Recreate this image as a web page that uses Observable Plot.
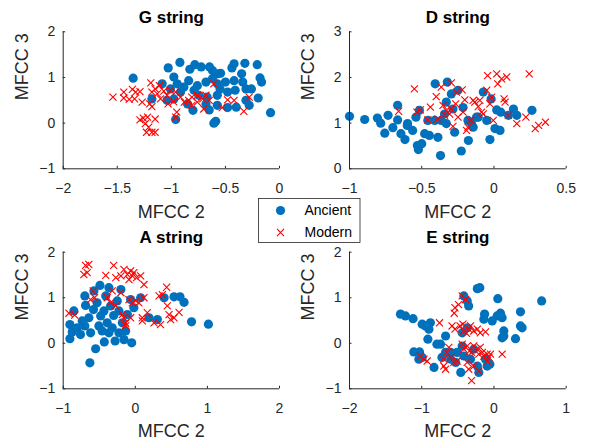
<!DOCTYPE html>
<html><head><meta charset="utf-8">
<script src="https://cdn.jsdelivr.net/npm/d3@7"></script>
<script src="https://cdn.jsdelivr.net/npm/@observablehq/plot@0.6"></script>
<style>
body{margin:0;background:#fff;}
#chart{position:relative;width:589px;height:440px;font-family:"Liberation Sans",Arial,sans-serif;background:#fff;overflow:hidden;}
.panel{position:absolute;}
</style></head><body><div id="chart"></div>
<script>
// ---- data: [MFCC 2, MFCC 3] pairs ----
const gAncient = [[-1.353,0.985],[-0.921,1.33],[-1.029,1.21],[-0.783,1.28],[-0.829,1.18],[-0.724,1.23],[-0.647,1.23],[-0.62,1.15],[-0.575,1.08],[-0.545,1.09],[-0.42,1.30],[-0.44,1.21],[-0.32,1.31],[-0.206,1.28],[-0.35,1.08],[-0.18,0.99],[-0.166,0.90],[-0.26,0.75],[-0.31,0.75],[-0.197,0.55],[-0.28,0.39],[-0.083,0.23],[-0.40,0.35],[-0.48,0.34],[-0.575,0.39],[-0.65,0.29],[-0.607,0.0],[-0.59,0.04],[-0.80,0.28],[-0.96,0.08],[-1.18,0.53],[-1.085,0.86],[-0.977,1.01],[-0.884,0.79],[-0.84,0.93],[-0.76,0.82],[-0.68,0.90],[-0.50,0.90],[-0.42,0.93],[-0.41,0.72],[-0.48,0.68],[-0.575,0.61],[-0.67,0.57],[-0.746,0.61],[-0.915,0.68],[-0.977,0.53],[-1.04,0.50],[-0.85,0.42],[-0.575,0.86],[-0.62,0.97],[-0.946,0.86],[-1.008,0.75],[-0.34,0.90],[-0.55,0.75],[-0.31,0.50],[-0.68,0.42],[-0.79,0.72]];
const gModern = [[-1.54,0.57],[-1.44,0.68],[-1.44,0.55],[-1.39,0.52],[-1.36,0.74],[-1.33,0.68],[-1.29,0.69],[-1.34,0.53],[-1.27,0.46],[-1.19,0.88],[-1.18,0.68],[-1.15,0.75],[-1.11,0.82],[-1.13,0.64],[-1.20,0.42],[-1.18,0.36],[-1.29,0.07],[-1.26,0.11],[-1.22,0.13],[-1.15,0.09],[-1.24,-0.01],[-1.21,-0.09],[-1.23,-0.20],[-1.18,-0.20],[-1.15,-0.20],[-1.07,0.70],[-1.04,0.61],[-1.01,0.72],[-0.96,0.68],[-1.03,0.42],[-0.98,0.47],[-0.95,0.24],[-0.96,0.13],[-0.915,0.57],[-0.88,0.46],[-0.84,0.50],[-0.81,0.57],[-0.76,0.61],[-0.76,0.46],[-0.71,0.53],[-0.68,0.61],[-0.65,0.50],[-0.70,0.31],[-0.607,0.86],[-0.53,0.34],[-0.48,0.51],[-0.42,0.50],[-0.33,0.26],[-0.28,0.57],[-0.81,0.39],[-1.10,0.53]];
const dAncient = [[-1.0,1.15],[-0.895,1.08],[-0.807,1.11],[-0.784,1.0],[-0.733,1.17],[-0.756,0.78],[-0.70,0.90],[-0.667,1.39],[-0.667,1.07],[-0.644,0.77],[-0.616,0.64],[-0.60,0.95],[-0.563,0.84],[-0.54,1.13],[-0.53,0.51],[-0.523,0.42],[-0.50,0.55],[-0.516,1.28],[-0.48,0.77],[-0.458,1.06],[-0.447,0.73],[-0.407,1.86],[-0.388,0.69],[-0.37,0.29],[-0.365,1.06],[-0.33,0.99],[-0.323,1.90],[-0.33,1.46],[-0.295,1.64],[-0.284,1.31],[-0.272,0.80],[-0.249,1.72],[-0.226,0.39],[-0.214,1.34],[-0.18,1.06],[-0.177,0.62],[-0.156,0.99],[-0.144,0.91],[-0.109,1.13],[-0.074,1.68],[-0.05,1.06],[-0.02,1.53],[-0.028,0.64],[0.007,0.88],[0.019,1.29],[0.042,0.84],[0.047,1.24],[0.10,1.17],[0.135,1.31],[0.158,1.17],[0.263,1.28],[-0.121,1.13],[-0.41,1.06],[-0.342,1.20],[-0.598,0.99]];
const dModern = [[-0.551,1.75],[-0.66,1.26],[-0.533,1.24],[-0.51,1.29],[-0.458,1.07],[-0.44,1.35],[-0.40,1.58],[-0.365,1.79],[-0.353,1.39],[-0.388,1.09],[-0.342,1.17],[-0.33,1.28],[-0.307,1.20],[-0.295,1.88],[-0.295,1.31],[-0.265,1.42],[-0.26,1.68],[-0.249,1.13],[-0.284,0.93],[-0.22,1.73],[-0.202,1.51],[-0.19,0.84],[-0.18,0.91],[-0.156,1.06],[-0.144,1.50],[-0.133,1.46],[-0.109,1.36],[-0.098,1.50],[-0.074,1.20],[-0.05,1.72],[-0.044,2.04],[-0.028,1.42],[-0.016,1.57],[-0.005,1.06],[0.019,2.08],[0.026,1.86],[0.053,1.97],[0.07,1.53],[0.077,1.46],[0.088,2.01],[0.10,1.17],[0.158,0.99],[0.221,1.13],[0.244,2.08],[0.286,0.88],[0.309,0.95],[0.356,1.02],[-0.167,1.06],[-0.086,1.24],[-0.214,1.24]];
const aAncient = [[-0.907,0.41],[-0.875,0.25],[-0.907,0.10],[-0.852,0.71],[-0.76,0.19],[-0.70,0.38],[-0.70,1.04],[-0.69,0.83],[-0.63,-0.43],[-0.644,0.56],[-0.574,1.15],[-0.55,-0.12],[-0.58,0.74],[-0.53,0.89],[-0.49,1.27],[-0.48,0.60],[-0.46,0.27],[-0.43,0.03],[-0.41,1.04],[-0.39,0.45],[-0.366,1.22],[-0.343,0.82],[-0.32,0.34],[-0.30,0.61],[-0.28,0.05],[-0.25,0.93],[-0.227,0.23],[-0.20,1.18],[-0.18,0.45],[-0.157,0.08],[-0.134,0.27],[-0.11,0.63],[-0.065,0.96],[-0.05,0.01],[-0.02,0.78],[0.074,1.00],[0.19,0.56],[0.306,0.52],[0.40,1.00],[0.537,1.02],[0.62,1.02],[0.676,0.90],[0.78,0.47],[1.014,0.42],[-0.806,0.34],[-0.505,0.38],[-0.435,0.71],[-0.366,0.23],[-0.227,0.71],[-0.62,0.23],[-0.736,0.49]];
const aModern = [[-0.92,0.66],[-0.84,0.62],[-0.713,1.51],[-0.69,1.71],[-0.644,1.73],[-0.667,1.55],[-0.62,0.96],[-0.565,1.00],[-0.583,1.15],[-0.41,1.49],[-0.30,1.71],[-0.27,1.44],[-0.20,1.48],[-0.157,1.62],[-0.11,1.51],[-0.088,1.40],[-0.065,1.59],[-0.042,1.48],[-0.02,1.55],[0.018,1.44],[0.074,1.48],[0.12,1.29],[-0.39,1.00],[-0.343,0.89],[-0.27,0.82],[-0.20,1.11],[-0.18,0.63],[-0.157,0.56],[-0.134,0.38],[-0.134,0.44],[-0.088,0.96],[-0.065,0.56],[-0.042,0.89],[0.005,0.93],[0.05,0.89],[0.097,0.56],[0.097,0.49],[0.167,0.67],[0.26,0.45],[0.35,0.41],[0.33,1.04],[0.435,1.23],[0.444,0.82],[0.468,0.63],[0.49,0.52],[0.537,0.56],[0.607,0.68],[0.375,1.07],[0.12,1.00],[-0.32,1.15]];
const eAncient = [[-1.294,0.64],[-1.225,0.60],[-1.12,0.54],[-0.994,0.42],[-0.948,0.38],[-0.88,0.45],[-0.90,0.31],[-0.915,0.09],[-0.79,-0.02],[-0.74,-0.02],[-0.67,0.16],[-1.11,-0.19],[-1.03,-0.19],[-1.04,-0.35],[-0.994,-0.31],[-0.83,-0.53],[-0.72,-0.31],[-0.67,-0.20],[-0.60,-0.35],[-0.53,-0.42],[-0.46,-0.64],[-0.417,1.04],[-0.37,0.93],[-0.35,0.82],[-0.44,0.23],[-0.37,0.34],[-0.325,-0.35],[-0.28,-0.13],[-0.23,1.20],[-0.196,1.22],[-0.23,-0.50],[-0.21,-0.64],[-0.13,0.64],[-0.14,0.53],[-0.117,-0.35],[-0.094,-0.50],[-0.057,-0.46],[-0.025,0.49],[0.044,0.60],[0.053,0.98],[0.09,0.66],[0.113,0.56],[0.136,0.27],[0.113,0.12],[0.136,0.16],[0.298,0.10],[0.367,0.38],[0.39,0.34],[0.367,0.69],[0.66,0.93],[-0.51,-0.20],[-0.417,-0.28],[-0.44,-0.06],[-0.60,-0.20]];
const eModern = [[-0.754,0.45],[-1.02,-0.28],[-0.97,-0.35],[-0.925,-0.39],[-0.694,-0.35],[-0.65,-0.20],[-0.625,-0.09],[-0.60,-0.31],[-0.694,-0.50],[-0.67,-0.57],[-0.555,-0.42],[-0.51,-0.39],[-0.58,0.38],[-0.54,0.31],[-0.55,0.66],[-0.54,0.78],[-0.49,0.85],[-0.44,1.04],[-0.394,0.96],[-0.47,0.38],[-0.43,0.42],[-0.417,0.27],[-0.38,0.22],[-0.35,0.31],[-0.325,0.38],[-0.28,0.27],[-0.23,0.31],[-0.19,0.23],[-0.117,0.25],[-0.44,-0.02],[-0.417,-0.13],[-0.37,-0.06],[-0.34,-0.17],[-0.31,-0.20],[-0.28,-0.06],[-0.235,-0.13],[-0.21,-0.24],[-0.19,-0.09],[-0.16,-0.20],[-0.14,-0.28],[-0.094,-0.24],[-0.07,-0.31],[-0.048,-0.24],[0.113,-0.24],[-0.37,-0.42],[-0.35,-0.57],[-0.31,-0.82],[-0.28,-0.50],[-0.21,-0.61],[-0.094,-0.39]];

const titles = ["G string", "D string", "A string", "E string"];
const seriesNames = ["Ancient", "Modern"];
const gXTicks = [-2, -1.5, -1, -0.5, 0], gYTicks = [-1, 0, 1, 2];
const dXTicks = [-1, -0.5, 0, 0.5],      dYTicks = [0, 1, 2, 3];
const aXTicks = [-1, 0, 1, 2],           aYTicks = [-1, 0, 1, 2];
const eXTicks = [-2, -1, 0, 1],          eYTicks = [-1, 0, 1, 2];
const xLabel = "MFCC 2", yLabel = "MFCC 3";

// ---- layout / style ----
const BLUE = "#0072BD", RED = "#FF0000", AX = "#262626";
const FONT = '"Liberation Sans", Arial, sans-serif';
const fmt = d => String(d).replace("-", "\u2212");

const panels = [
  {title: titles[0], anc: gAncient, mod: gModern, xt: gXTicks, yt: gYTicks, left: 0,   top: 0,   w: 294, h: 220, m: [31.3, 15, 51.7, 62.7], xdy: 43},
  {title: titles[1], anc: dAncient, mod: dModern, xt: dXTicks, yt: dYTicks, left: 294, top: 0,   w: 295, h: 220, m: [31.3, 23.3, 51.7, 55], xdy: 43},
  {title: titles[2], anc: aAncient, mod: aModern, xt: aXTicks, yt: aYTicks, left: 0,   top: 220, w: 294, h: 220, m: [31.7, 15, 51.7, 62.7], xdy: 42},
  {title: titles[3], anc: eAncient, mod: eModern, xt: eXTicks, yt: eYTicks, left: 294, top: 220, w: 295, h: 220, m: [31.7, 23.3, 51.7, 55], xdy: 42}
];

const chart = document.getElementById("chart");
const TL = 2.5;

for (const p of panels) {
  const [mt, mr, mb, ml] = p.m;
  const innerH = p.h - mt - mb, innerW = p.w - ml - mr;
  const xd = d3.extent(p.xt), yd = d3.extent(p.yt);
  const svg = Plot.plot({
    width: p.w, height: p.h,
    marginTop: mt, marginRight: mr, marginBottom: mb, marginLeft: ml,
    style: {background: "transparent", overflow: "visible", fontFamily: FONT},
    x: {domain: xd}, y: {domain: yd},
    marks: [
      Plot.dot(p.anc, {x: d => d[0], y: d => d[1], r: 4.6, fill: BLUE}),
      Plot.dot(p.mod, {x: d => d[0], y: d => d[1], r: 3.3, symbol: "times", stroke: RED, strokeWidth: 1.1}),
      Plot.ruleY([yd[0]], {stroke: AX, strokeWidth: 1}),
      Plot.ruleX([xd[0]], {stroke: AX, strokeWidth: 1}),
      Plot.tickX(p.xt, {x: d => d, stroke: AX, insetTop: innerH - TL}),
      Plot.tickY(p.yt, {y: d => d, stroke: AX, insetRight: innerW - TL}),
      Plot.axisX(p.xt, {tickSize: 0, tickPadding: 14.5, tickFormat: fmt, fontSize: 14, color: AX, label: null}),
      Plot.axisY(p.yt, {tickSize: 0, tickPadding: 8, tickFormat: fmt, fontSize: 14, color: AX, label: null}),
      Plot.text([p.title], {frameAnchor: "top", lineAnchor: "middle", dy: -14.3, fontSize: 17, fontWeight: "bold", fill: "#000"}),
      Plot.text([xLabel], {frameAnchor: "bottom", lineAnchor: "middle", dy: p.xdy, fontSize: 18, fill: AX}),
      Plot.text([yLabel], {frameAnchor: "left", lineAnchor: "middle", dx: -41, rotate: -90, fontSize: 18, fill: AX})
    ]
  });
  const div = document.createElement("div");
  div.className = "panel";
  div.style.left = p.left + "px";
  div.style.top = p.top + "px";
  div.appendChild(svg);
  chart.appendChild(div);
}

// ---- legend ----
const leg = d3.create("svg").attr("width", 103).attr("height", 46)
  .style("position", "absolute").style("left", "258px").style("top", "198px")
  .style("font-family", FONT);
leg.append("rect").attr("x", 0.5).attr("y", 0.5).attr("width", 101.5).attr("height", 44)
  .attr("fill", "#fff").attr("stroke", AX).attr("stroke-width", 0.8);
const rows = leg.selectAll("g").data(seriesNames).join("g")
  .attr("transform", (d, i) => `translate(0,${12.5 + i * 22})`);
rows.filter((d, i) => i === 0).append("circle").attr("cx", 22.5).attr("r", 4.6).attr("fill", BLUE);
rows.filter((d, i) => i === 1).append("path").attr("d", d3.symbol(d3.symbolTimes, 34)())
  .attr("transform", "translate(22.5,0)").attr("stroke", RED).attr("stroke-width", 1.1).attr("fill", "none");
rows.append("text").attr("x", 46.5).attr("dy", "0.35em").attr("font-size", 14).attr("fill", "#000").text(d => d);
chart.appendChild(leg.node());
</script></body></html>
